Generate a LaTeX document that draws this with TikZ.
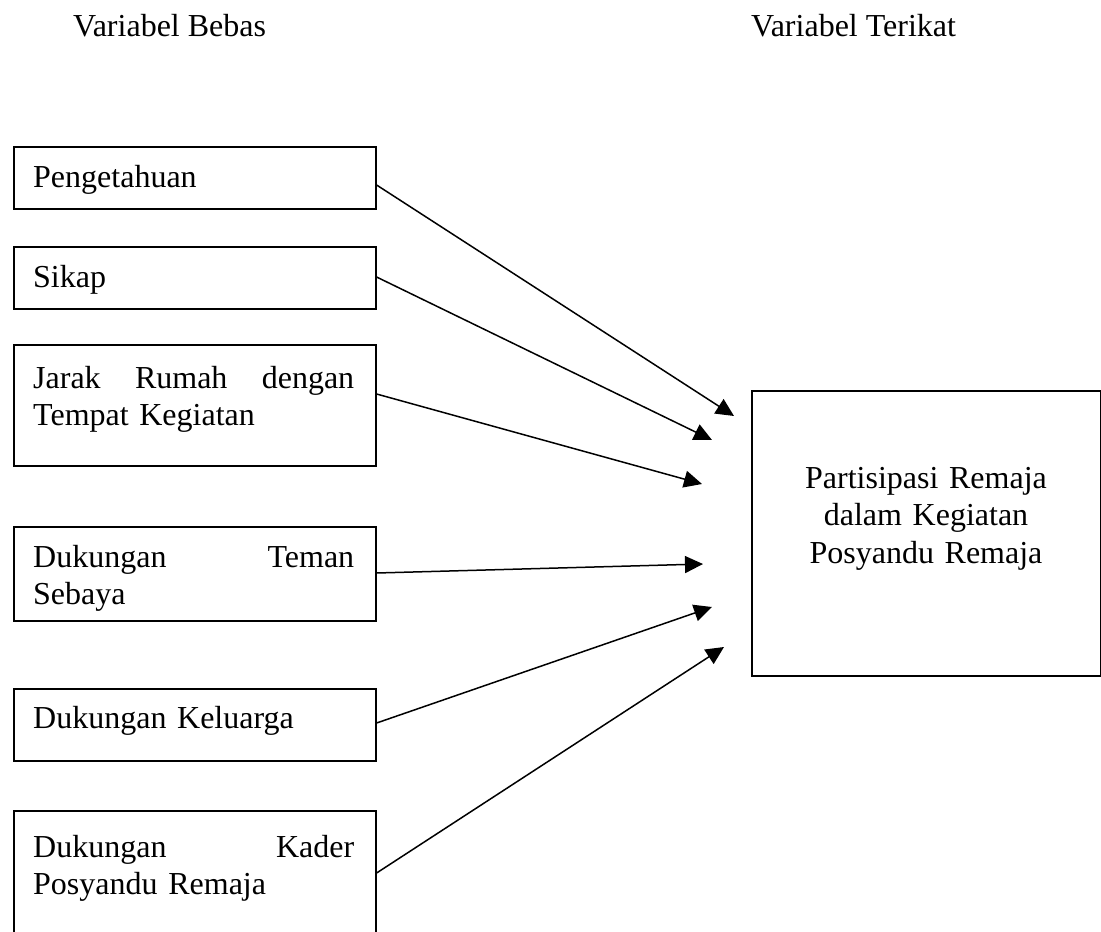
\documentclass[tikz,border=0pt]{standalone}
\usepackage{fontspec}
\setmainfont{Liberation Serif}
\usetikzlibrary{arrows.meta}
\begin{document}
\begin{tikzpicture}[x=1pt,y=-1pt,
  box/.style={draw,line width=1.6pt,rectangle,inner sep=0pt,anchor=north west,minimum width=362pt},
  txt/.style={anchor=base west,inner sep=0pt,text width=321pt,align=left,font=\fontsize{32}{37}\selectfont},
  head/.style={anchor=base west,inner sep=0pt,font=\fontsize{32}{37}\selectfont},
  conn/.style={line width=1.5pt,-{Triangle[length=18pt,width=17pt]}}]
\useasboundingbox (0,0) rectangle (1101,932);
\node[head] (h1) at (73,36) {Variabel Bebas};
\node[head] (h2) at (751,36) {Variabel Terikat};
\node[box,minimum height=62pt] (b1) at (13,146) {};
\node[box,minimum height=62pt] (b2) at (13,246) {};
\node[box,minimum height=121pt] (b3) at (13,344) {};
\node[box,minimum height=94pt] (b4) at (13,526) {};
\node[box,minimum height=72pt] (b5) at (13,688) {};
\node[box,minimum height=150pt] (b6) at (13,810) {};
\node[draw,line width=1.6pt,rectangle,inner sep=0pt,anchor=north west,minimum width=349pt,minimum height=285pt] (r) at (751,390) {};
\node[txt] (t1) at (33,187) {Pengetahuan};
\node[txt] (t2) at (33,287) {Sikap};
\node[txt] (t3) at (33,388) {Jarak\hfill Rumah\hfill dengan\\Tempat Kegiatan};
\node[txt] (t4) at (33,567) {Dukungan\hfill Teman\\Sebaya};
\node[txt] (t5) at (33,728) {Dukungan Keluarga};
\node[txt] (t6) at (33,857) {Dukungan\hfill Kader\\Posyandu Remaja};
\node[anchor=base,inner sep=0pt,text width=330pt,align=center,font=\fontsize{32}{37.5}\selectfont] (rt) at (926,488) {Partisipasi Remaja\\dalam Kegiatan\\Posyandu Remaja};
\coordinate (e1) at (734,416);
\coordinate (e2) at (712,440);
\coordinate (e3) at (702,484);
\coordinate (e4) at (703,564);
\coordinate (e5) at (712,607);
\coordinate (e6) at (724,647);
\draw[conn] ([yshift=-39pt]b1.north east) -- (e1);
\draw[conn] ([yshift=-31pt]b2.north east) -- (e2);
\draw[conn] ([yshift=-50pt]b3.north east) -- (e3);
\draw[conn] ([yshift=-47pt]b4.north east) -- (e4);
\draw[conn] ([yshift=-35pt]b5.north east) -- (e5);
\draw[conn] ([yshift=-63pt]b6.north east) -- (e6);
\end{tikzpicture}
\end{document}
